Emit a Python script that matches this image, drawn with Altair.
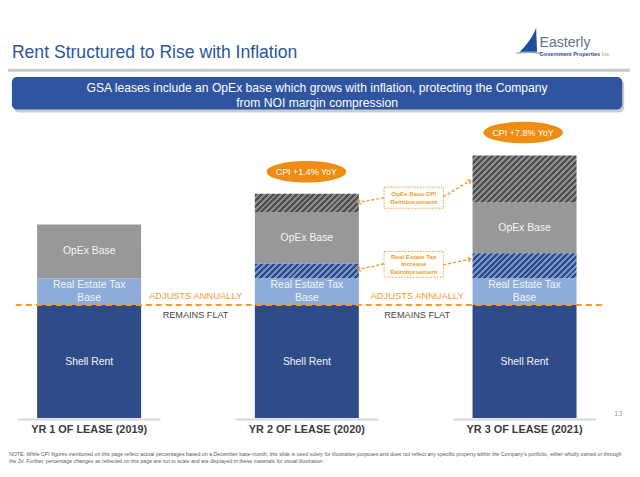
import math
import altair as alt
import pandas as pd

# ---------------- data ----------------
years = ["YR 1 OF LEASE (2019)", "YR 2 OF LEASE (2020)", "YR 3 OF LEASE (2021)"]
shell_rent = [118, 118, 118]
re_tax_base = [28, 28, 28]
re_tax_increase = [0, 15, 26]
opex_base = [56, 54, 53]
opex_cpi = [0, 19, 49]
cpi_labels = ["", "CPI +1.4% YoY", "CPI +7.8% YoY"]

seg_keys = ["shell", "re_base", "re_inc", "opex_base", "opex_cpi"]
seg_values = [shell_rent, re_tax_base, re_tax_increase, opex_base, opex_cpi]
seg_text = ["Shell Rent", "Real Estate Tax\nBase", "", "OpEx Base", ""]

title_text = "Rent Structured to Rise with Inflation"
banner_lines = ["GSA leases include an OpEx base which grows with inflation, protecting the Company",
                "from NOI margin compression"]
note_lines = [
    "NOTE: While CPI figures mentioned on this page reflect actual percentages based on a December base month, this slide is used solely for illustrative purposes and does not reflect any specific property within the Company\u2019s portfolio, either wholly owned or through",
    "the JV. Further, percentage changes as reflected on this page are not to scale and are displayed in these materials for visual illustration.",
]

# ---------------- layout ----------------
W, H = 622, 457
sx, sy = W / 640, H / 477
X = lambda v: v * sx
Y = lambda v: v * sy
FONT = "Liberation Sans"

SHELL = "#2E4C89"
REBASE = "#8EACDA"
OPEX = "#989898"
ORANGE = "#F29B30"
PILL = "#EE8C14"
TITLE = "#2B579A"
BANNER = "#2F55A0"
LABEL_LH = 13

rows = []
for i, yr in enumerate(years):
    cum = 0
    for k, vals, lab in zip(seg_keys, seg_values, seg_text):
        v = vals[i]
        rows.append({"year": yr, "seg": k, "y0": cum, "y1": cum + v, "mid": cum + v / 2,
                     "label": lab, "nlines": lab.count("\n") + 1 if lab else 0})
        cum += v
df = pd.DataFrame(rows)

P_IN = 0.5223
x_lo, x_hi = X(30), X(585)
step = (x_hi - x_lo) / (3 - P_IN)
bandw = step * (1 - P_IN)

xenc = alt.X("year:N", scale=alt.Scale(domain=years, range=[x_lo, x_hi], paddingInner=P_IN, paddingOuter=0), axis=None)
yscale = alt.Scale(domain=[0, 428], range=[Y(428), 0], nice=False, zero=False)

one = pd.DataFrame({"a": [0]})


def txt(s, x, y, size, color, weight="normal", align="center", baseline="middle", lh=None):
    kw = dict(align=align, baseline=baseline, fontSize=size * sx, color=color, fontWeight=weight, font=FONT)
    y0 = y
    if isinstance(s, list):
        lh = lh or size * 1.2
        kw["lineHeight"] = lh * sy
        y0 = y - (len(s) - 1) / 2 * lh
    return alt.Chart(one).mark_text(**kw).encode(x=alt.value(X(x)), y=alt.value(Y(y0)), text=alt.value(s))


def rect(x1, y1, x2, y2, **kw):
    return alt.Chart(one).mark_rect(**kw).encode(
        x=alt.value(X(x1)), x2=alt.value(X(x2)), y=alt.value(Y(y1)), y2=alt.value(Y(y2)))


def rule(x1, y1, x2, y2, **kw):
    return alt.Chart(one).mark_rule(**kw).encode(
        x=alt.value(X(x1)), x2=alt.value(X(x2)), y=alt.value(Y(y1)), y2=alt.value(Y(y2)))


def point(x, y, shape, size, angle=0, **kw):
    return alt.Chart(one).mark_point(shape=shape, size=size, angle=angle, **kw).encode(
        x=alt.value(X(x)), y=alt.value(Y(y)))


def hatch(wpx, hpx, c1, c2, period=4.2):
    k = (1 / hpx + 1 / wpx) / (1 / hpx ** 2 + 1 / wpx ** 2)
    dx, dy = k / hpx, k / wpx
    span = (wpx + hpx) / math.sqrt(2)
    n = max(2, round(span / period))
    stops = []
    for i in range(n):
        a, b, c = i / n, (i + 0.5) / n, (i + 1) / n
        stops += [alt.GradientStop(offset=a, color=c1), alt.GradientStop(offset=b, color=c1),
                  alt.GradientStop(offset=b, color=c2), alt.GradientStop(offset=c, color=c2)]
    return alt.LinearGradient(gradient="linear", stops=stops, x1=0, y1=0, x2=dx, y2=dy)


layers = []

# header
layers.append(txt(title_text, 4, 47, 18.1, TITLE, align="left"))
layers.append(rect(0, 63.5, 640, 66.5, fill="#C8C8C8"))
# logo
sail = "M0.55,-0.95 C0.3,-0.3 -0.2,0.4 -0.7,0.85 L0.62,0.85 Z"
layers.append(point(536, 34, sail, (27 * sx) ** 2, filled=True, fill="#1F4E9A", strokeWidth=0, opacity=1))
hull = "M-1,0.9 Q0,0.8 1,0.9 L0.9,1 Q0,0.9 -0.9,1 Z"
layers.append(point(536, 34, hull, (27 * sx) ** 2, filled=True, fill="#8FA3C3", strokeWidth=0, opacity=1))
layers.append(txt("Easterly", 547, 37, 14.5, "#5F7393", align="left"))
layers.append(txt("Government Properties", 547, 48.5, 5.6, "#1F4E9A", weight="bold", align="left"))
layers.append(txt("Inc.", 611, 48.5, 5.6, "#9A9A9A", align="left"))

# banner
layers.append(rect(6, 75, 634, 109, fill="#B8B8B8", cornerRadius=5, opacity=0.7))
layers.append(rect(4, 72, 632, 106, fill=BANNER, cornerRadius=5))
layers.append(txt(banner_lines, 318, 91.5, 12.5, "white", lh=15))

# baselines under bars
layers.append(alt.Chart(pd.DataFrame({"year": years})).mark_bar(
    width=alt.RelativeBandSize(1.37), fill="#D6D6D6").encode(
    x=xenc, y=alt.value(Y(428.5)), y2=alt.value(Y(430.5))))

# solid segments
layers.append(alt.Chart(df).transform_filter(
    "datum.seg != 're_inc' && datum.seg != 'opex_cpi'").mark_bar().encode(
    x=xenc,
    y=alt.Y("y0:Q", scale=yscale, axis=None),
    y2="y1:Q",
    color=alt.Color("seg:N", scale=alt.Scale(domain=["shell", "re_base", "opex_base"],
                                             range=[SHELL, REBASE, OPEX]), legend=None)))

# hatched segments
hatch_colors = {"re_inc": ("#2B4A86", "#7594CD"), "opex_cpi": ("#4E4E4E", "#8C8C8C")}
for i, yr in enumerate(years):
    for k in ["re_inc", "opex_cpi"]:
        v = seg_values[seg_keys.index(k)][i]
        if v <= 0:
            continue
        c1, c2 = hatch_colors[k]
        g = hatch(bandw, v * sy, c1, c2)
        layers.append(alt.Chart(df).transform_filter(
            f"datum.year == '{yr}' && datum.seg == '{k}'").mark_bar(fill=g).encode(
            x=xenc, y=alt.Y("y0:Q", scale=yscale, axis=None), y2="y1:Q"))

# segment labels (single line, then two-line shifted up half a line)
for nl in [1, 2]:
    layers.append(alt.Chart(df).transform_filter(f"datum.nlines == {nl}").mark_text(
        lineBreak="\n", fontSize=10.7 * sx, font=FONT, color="#F4F4F4", baseline="middle",
        lineHeight=LABEL_LH * sy, dy=-(nl - 1) / 2 * LABEL_LH * sy).encode(
        x=xenc, y=alt.Y("mid:Q", scale=yscale, axis=None), text="label:N"))

# year labels
layers.append(alt.Chart(pd.DataFrame({"year": years})).mark_text(
    fontSize=11.2 * sx, font=FONT, fontWeight="bold", color="#3C3C3C", baseline="middle").encode(
    x=xenc, y=alt.value(Y(440)), text="year:N"))

# dashed threshold line
layers.append(rule(8, 310, 612, 310, stroke=ORANGE, strokeWidth=1.8, strokeDash=[6, 4]))
for cx in [193, 421]:
    layers.append(txt("ADJUSTS ANNUALLY", cx, 301, 9.6, ORANGE))
    layers.append(txt("REMAINS FLAT", cx, 320.5, 9.4, "#454545"))

# CPI pills
ell_e, kap = 0.27, 0.5523
ellipse = (f"M-1,0 C-1,{-ell_e*kap} {-kap},{-ell_e} 0,{-ell_e} C{kap},{-ell_e} 1,{-ell_e*kap} 1,0 "
           f"C1,{ell_e*kap} {kap},{ell_e} 0,{ell_e} C{-kap},{ell_e} -1,{ell_e*kap} -1,0 Z")
pill_pos = [None, (307, 171), (530, 130)]
for i, lab in enumerate(cpi_labels):
    if not lab:
        continue
    px, py = pill_pos[i]
    layers.append(point(px, py, ellipse, (82 * sx) ** 2, filled=True, fill=PILL, strokeWidth=0, opacity=1))
    layers.append(txt(lab, px, py, 9.2, "white"))

# annotation boxes
layers.append(rect(387, 187, 448, 209, fill="white", stroke=ORANGE, strokeWidth=1, strokeDash=[1.5, 1.5]))
layers.append(txt(["OpEx Base CPI", "Reimbursement"], 417.5, 198, 6.4, ORANGE, weight="bold", lh=8.5))
layers.append(rect(387, 254, 448, 281, fill="white", stroke=ORANGE, strokeWidth=1, strokeDash=[1.5, 1.5]))
layers.append(txt(["Real Estate Tax", "Increase", "Reimbursement"], 417.5, 267.5, 6.4, ORANGE, weight="bold", lh=7.6))

# arrows
chev = "M-1,-0.8 L0,0 L-1,0.8"
arrows = [((387, 198), (360, 203)), ((387, 267), (360, 273)),
          ((448, 197), (476, 180)), ((448, 268), (476, 262))]
for (x1, y1), (x2, y2) in arrows:
    layers.append(rule(x1, y1, x2, y2, stroke=ORANGE, strokeWidth=1.4, strokeDash=[3, 2]))
    ang = math.degrees(math.atan2(Y(y2) - Y(y1), X(x2) - X(x1))) % 360
    layers.append(point(x2, y2, chev, 30, angle=ang, filled=False, stroke=ORANGE, strokeWidth=1.3, opacity=1))

# page number and footnote
layers.append(txt("13", 628, 424, 8, "#A0A0A0"))
layers.append(txt(note_lines[0], 1, 466, 5.42, "#5A5A5A", align="left"))
layers.append(txt(note_lines[1], 1, 473, 5.42, "#5A5A5A", align="left"))

chart = alt.layer(*layers).properties(
    width=W, height=H, padding=0, autosize=alt.AutoSizeParams(type="none")
).configure_view(strokeWidth=0)

chart.save("out.html", embed_options={"renderer": "svg", "actions": False})
